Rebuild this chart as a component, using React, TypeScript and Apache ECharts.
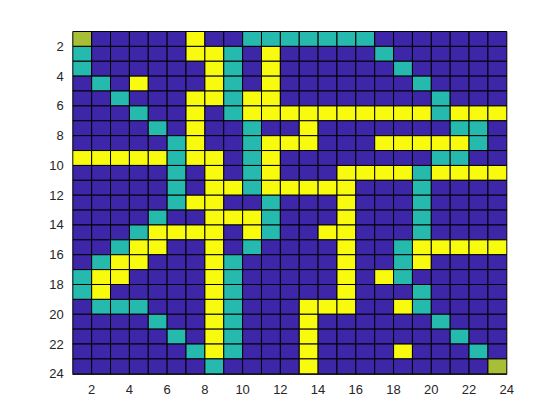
import React, { useEffect, useRef } from "react";
import * as echarts from "echarts";

// Cell codes: 0 = dark blue, 1 = teal, 2 = yellow-green, 3 = yellow
const cellRows: number[][] = [
  [2,0,0,0,0,0,3,0,0,1,1,1,1,1,1,1,0,0,0,0,0,0,0],
  [1,0,0,0,0,0,3,3,1,0,3,0,0,0,0,0,1,0,0,0,0,0,0],
  [1,0,0,0,0,0,0,3,1,0,3,0,0,0,0,0,0,1,0,0,0,0,0],
  [0,1,0,3,0,0,0,3,1,0,3,0,0,0,0,0,0,0,1,0,0,0,0],
  [0,0,1,0,0,0,3,3,1,3,3,0,0,0,0,0,0,0,0,1,0,0,0],
  [0,0,0,1,0,0,3,0,1,3,3,3,3,3,3,3,3,3,3,1,3,3,3],
  [0,0,0,0,1,0,3,0,0,1,0,0,3,0,0,0,0,0,0,0,1,1,0],
  [0,0,0,0,0,1,3,0,0,1,3,3,3,0,0,0,3,3,3,3,3,1,0],
  [3,3,3,3,3,1,3,3,0,1,3,0,0,0,0,0,0,0,0,1,1,0,0],
  [0,0,0,0,0,1,0,3,0,1,3,0,0,0,3,3,3,3,1,3,3,3,3],
  [0,0,0,0,0,1,0,3,3,1,3,3,3,3,3,0,0,0,1,0,0,0,0],
  [0,0,0,0,0,1,3,3,0,0,1,0,0,0,3,0,0,0,1,0,0,0,0],
  [0,0,0,0,1,0,0,3,3,3,1,0,0,0,3,0,0,0,1,0,0,0,0],
  [0,0,0,1,3,3,3,3,0,3,1,0,0,3,3,0,0,0,1,0,0,0,0],
  [0,0,1,3,3,0,0,3,0,1,0,0,0,0,3,0,0,1,3,3,3,3,3],
  [0,1,3,3,0,0,0,3,1,0,0,0,0,0,3,0,0,1,3,0,0,0,0],
  [1,3,3,0,0,0,0,3,1,0,0,0,0,0,3,0,3,1,0,0,0,0,0],
  [1,3,0,0,0,0,0,3,1,0,0,0,0,0,3,0,0,0,1,0,0,0,0],
  [0,1,1,1,0,0,0,3,1,0,0,0,3,3,3,0,0,3,1,0,0,0,0],
  [0,0,0,0,1,0,0,3,1,0,0,0,3,0,0,0,0,0,0,1,0,0,0],
  [0,0,0,0,0,1,0,3,1,0,0,0,3,0,0,0,0,0,0,0,1,0,0],
  [0,0,0,0,0,0,1,3,1,0,0,0,3,0,0,0,0,3,0,0,0,1,0],
  [0,0,0,0,0,0,0,1,0,0,0,0,3,0,0,0,0,0,0,0,0,0,2],
];

const xTickLabels = [2, 4, 6, 8, 10, 12, 14, 16, 18, 20, 22, 24];
const yTickLabels = [2, 4, 6, 8, 10, 12, 14, 16, 18, 20, 22, 24];
const palette = ["#3E26A8", "#26BAAE", "#A6BF36", "#F9FB0E"];

export default function App() {
  const ref = useRef<HTMLDivElement>(null);
  useEffect(() => {
    if (!ref.current) return;
    const chart = echarts.init(ref.current, null, { renderer: "svg" });
    const data: number[][] = [];
    cellRows.forEach((row, r) => {
      row.forEach((v, c) => {
        data.push([c + 1, r + 1, v]);
      });
    });
    const labelStyle = {
      color: "#262626",
      fontSize: 13,
      fontFamily: "Liberation Sans, Arial, sans-serif",
    };
    chart.setOption({
      animation: false,
      backgroundColor: "#ffffff",
      grid: { left: 72.8, top: 31.5, width: 434, height: 342.3, containLabel: false },
      xAxis: {
        type: "value",
        min: 1,
        max: 24,
        position: "bottom",
        axisLine: { show: true, lineStyle: { color: "#262626" } },
        axisTick: { show: false },
        splitLine: { show: false },
        axisLabel: { ...labelStyle, margin: 9, customValues: xTickLabels },
      },
      yAxis: {
        type: "value",
        min: 1,
        max: 24,
        inverse: true,
        axisLine: { show: true, lineStyle: { color: "#262626" } },
        axisTick: { show: false },
        splitLine: { show: false },
        axisLabel: { ...labelStyle, margin: 9, customValues: yTickLabels },
      },
      series: [
        {
          type: "custom",
          data,
          encode: { x: 0, y: 1 },
          renderItem: (params: any, api: any) => {
            const x = api.value(0);
            const y = api.value(1);
            const code = api.value(2);
            const p1 = api.coord([x, y]);
            const p2 = api.coord([x + 1, y + 1]);
            return {
              type: "rect",
              shape: {
                x: Math.min(p1[0], p2[0]),
                y: Math.min(p1[1], p2[1]),
                width: Math.abs(p2[0] - p1[0]),
                height: Math.abs(p2[1] - p1[1]),
              },
              style: { fill: palette[code], stroke: "#000000", lineWidth: 1 },
            };
          },
        },
      ],
    });
    return () => chart.dispose();
  }, []);
  return (
    <div
      ref={ref}
      style={{ position: "fixed", left: 0, top: 0, width: 560, height: 420, background: "#fff" }}
    />
  );
}
